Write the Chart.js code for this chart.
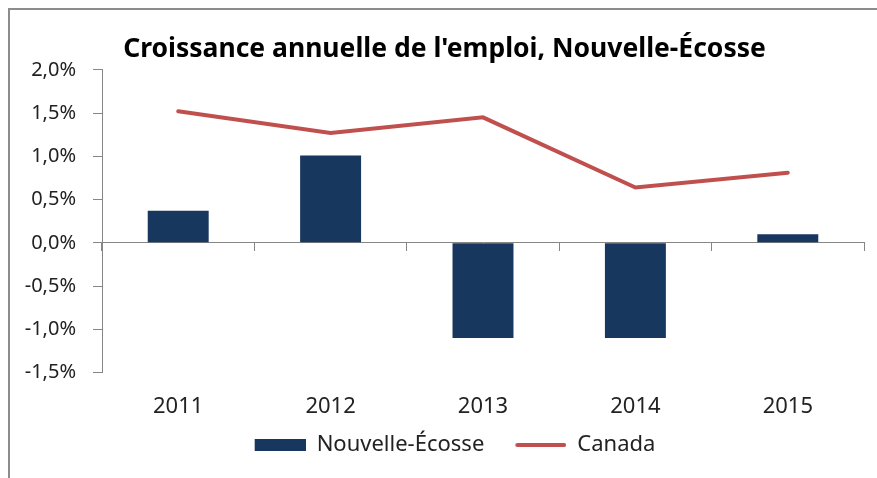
<!DOCTYPE html>
<html>
<head>
<meta charset="utf-8">
<script src="https://cdn.jsdelivr.net/npm/chart.js@4"></script>
<style>
  html, body { margin: 0; padding: 0; background: #fff; overflow: hidden; }
  #wrap { position: relative; width: 877px; height: 478px; overflow: hidden; }
  #frame { position: absolute; left: 8px; top: 8px; width: 900px; height: 500px;
           border-top: 2px solid #8c8c8c; border-left: 2px solid #8c8c8c; }
  canvas { position: absolute; left: 0; top: 0; }
</style>
</head>
<body>
<div id="wrap">
  <div id="frame"></div>
  <canvas id="chart" width="877" height="478"></canvas>
</div>
<script>
// values (percent)
const years = ['2011', '2012', '2013', '2014', '2015'];
const novaScotia = [0.37, 1.01, -1.10, -1.10, 0.10];
const canada = [1.52, 1.27, 1.45, 0.64, 0.81];
const yTicks = [-1.5, -1.0, -0.5, 0.0, 0.5, 1.0, 1.5, 2.0];

const FONT = '"Noto Sans", "Open Sans", sans-serif';
const axisGrey = '#868686';
const navy = '#17375E';
const red = '#C0504D';

// legend swatches; the transparent strip on the left widens the gap between items
function swatch(kind) {
  const c = document.createElement('canvas');
  c.width = 72; c.height = 14;
  const g = c.getContext('2d');
  if (kind === 'bar') {
    g.fillStyle = navy;
    g.fillRect(21, 1, 51, 12);
  } else {
    g.strokeStyle = red;
    g.lineWidth = 4;
    g.lineCap = 'round';
    g.beginPath(); g.moveTo(23, 7); g.lineTo(70, 7); g.stroke();
  }
  return c;
}
const barSwatch = swatch('bar');
const lineSwatch = swatch('line');

const ctx = document.getElementById('chart').getContext('2d');
new Chart(ctx, {
  type: 'bar',
  data: {
    labels: years,
    datasets: [
      {
        label: 'Canada',
        type: 'line',
        data: canada,
        borderColor: red,
        backgroundColor: red,
        borderWidth: 4,
        borderCapStyle: 'round',
        pointRadius: 0,
        tension: 0,
        order: 0
      },
      {
        label: 'Nouvelle-Écosse',
        data: novaScotia,
        backgroundColor: navy,
        borderWidth: 0,
        barPercentage: 0.4,
        categoryPercentage: 1.0,
        order: 1
      }
    ]
  },
  options: {
    responsive: false,
    animation: false,
    layout: { padding: { left: 25, right: 13, top: 10, bottom: 12 } },
    plugins: {
      title: {
        display: true,
        text: "Croissance annuelle de l'emploi, Nouvelle-Écosse",
        color: '#000',
        font: { family: FONT, size: 26.5, weight: 'bold' },
        padding: { top: 24, bottom: 4 }
      },
      legend: {
        position: 'bottom',
        reverse: true,
        labels: {
          color: '#222',
          font: { family: FONT, size: 22 },
          usePointStyle: true,
          pointStyleWidth: 72,
          boxHeight: 14,
          padding: 10,
          generateLabels(chart) {
            const items = Chart.defaults.plugins.legend.labels.generateLabels(chart);
            items.forEach(it => {
              const ds = chart.data.datasets[it.datasetIndex];
              it.pointStyle = ds.type === 'line' ? lineSwatch : barSwatch;
            });
            return items;
          }
        }
      },
      tooltip: { enabled: false }
    },
    scales: {
      x: {
        position: 'bottom',
        grid: { display: false, drawTicks: false },
        border: { display: false },
        ticks: { color: '#222', font: { family: FONT, size: 22 }, padding: 21 },
        // drop part of the padding Chart.js adds below the labels
        afterFit(axis) { axis.height -= 17; }
      },
      x2: {
        type: 'category',
        labels: years,
        position: { y: 0 },
        offset: true,
        grid: { offset: true, drawOnChartArea: false, tickLength: 8, color: axisGrey },
        border: { color: axisGrey, width: 1 },
        ticks: { display: false }
      },
      y: {
        min: -1.5,
        max: 2.0,
        afterBuildTicks(axis) { axis.ticks = yTicks.map(v => ({ value: v })); },
        afterFit(axis) { axis.width = 77; },
        grid: { drawOnChartArea: false, tickLength: 9, color: axisGrey },
        border: { color: axisGrey, width: 1 },
        ticks: {
          color: '#222',
          font: { family: FONT, size: 20 },
          padding: 17,
          callback: v => v.toFixed(1).replace('.', ',') + '%'
        }
      }
    }
  }
});
</script>
</body>
</html>
